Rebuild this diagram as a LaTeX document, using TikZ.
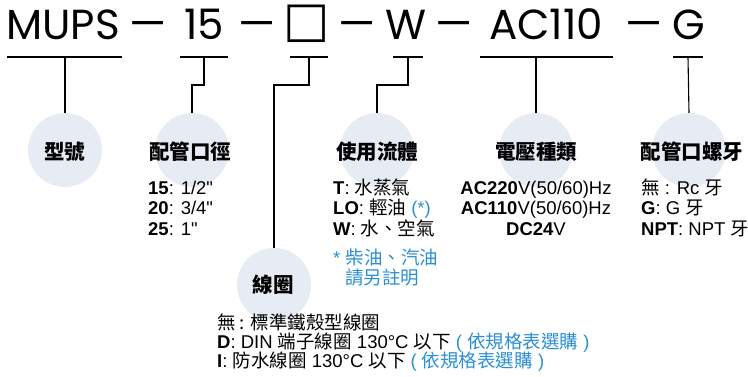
\documentclass[tikz,border=0pt]{standalone}
\usepackage{fontspec}
\setmainfont{Liberation Sans}
\newfontfamily\straight{Liberation Sans}
\newfontfamily\cjk{Noto Sans CJK TC}
\newfontfamily\titlefont{Poppins}
\newfontfamily\boxfont{DejaVu Sans}
\definecolor{bubblecol}{HTML}{E7EBF4}
\definecolor{noteblue}{HTML}{2B8FD4}
\newcommand{\zh}[1]{{\cjk #1}}
\newcommand{\inch}{{\straight"}}
\tikzset{
  code/.style={font=\titlefont\fontsize{42}{42}\selectfont, inner sep=0pt, anchor=base},
  bubble/.style={circle, fill=bubblecol, minimum size=74pt, inner sep=0pt},
  heading/.style={font=\cjk\bfseries\fontsize{20.5}{22}\selectfont, inner sep=0pt},
  item/.style={font=\fontsize{18.5}{20.5}\selectfont, inner sep=0pt, anchor=base west},
  stem/.style={line width=1.1pt},
}
\begin{document}
\begin{tikzpicture}[x=1pt,y=-1pt]
\useasboundingbox (0,0) rectangle (748,376);
% model code
\node[code] (mups) at (63,39) {MUPS};
\node[code] (size) at (204,39) {15};
\node[code,font=\boxfont\fontsize{49}{49}\selectfont] (coil) at (307,36) {□};
\node[code] (fluid) at (406,39) {W};
\node[code] (volt) at (546,39) {AC110};
\node[code] (thread) at (689,39) {G};
\foreach \x in {148,257,357,454,644}
  \node[code] (dash\x) at (\x,38) {—};
% underlines
\foreach \a/\b in {7/122,180/228,290/328,393/423,480/613,673/703}
  \draw[stem] (\a,57) -- (\b,57);
\coordinate (u1) at (65,57);
\coordinate (u2) at (204,57);
\coordinate (u3) at (309,57);
\coordinate (u4) at (408,57);
\coordinate (u5) at (536,57);
\coordinate (u6) at (688,57);
% bubbles
\node[bubble] (b1) at (65,150) {};
\node[bubble] (b2) at (192,150) {};
\node[bubble] (b3) at (274,285) {};
\node[bubble] (b4) at (377,150) {};
\node[bubble] (b5) at (536,150) {};
\node[bubble] (b6) at (689,150) {};
\draw[stem] (u1) -- (b1.north);
\draw[stem] (u2) -- ++(0,28) -| (b2.north);
\draw[stem] (u3) -- ++(0,28) -| (b3.north);
\draw[stem] (u4) -- ++(0,28) -| (b4.north);
\draw[stem] (u5) -- (b5.north);
\draw[stem] (u6) -- (b6.north);
% headings
\node[heading] (h1) at (65,152) {型號};
\node[heading] (h2) at (190,152) {配管口徑};
\node[heading] (h3) at (273,285) {線圈};
\node[heading] (h4) at (377,152) {使用流體};
\node[heading] (h5) at (536,152) {電壓種類};
\node[heading] (h6) at (692,152) {配管口螺牙};
% options
\node[item] (s15) at (148,194) {\textbf{15}: 1/2\inch};
\node[item] (s20) at (148,214.5) {\textbf{20}: 3/4\inch};
\node[item] (s25) at (148,235) {\textbf{25}: 1\inch};
\node[item] (ft) at (333,194) {\textbf{T}: \zh{水蒸氣}};
\node[item] (flo) at (333,214.5) {\textbf{LO}: \zh{輕油} \textcolor{noteblue}{(*)}};
\node[item] (fw) at (333,235) {\textbf{W}: \zh{水、空氣}};
\node[item,text=noteblue] (fnote1) at (333,264) {* \zh{柴油、汽油}};
\node[item,text=noteblue] (fnote2) at (345,284) {\zh{請另註明}};
\node[item,anchor=base] (v220) at (536,194) {\textbf{AC220}V(50/60)Hz};
\node[item,anchor=base] (v110) at (536,214.5) {\textbf{AC110}V(50/60)Hz};
\node[item,anchor=base] (v24) at (536,235) {\textbf{DC24}V};
\node[item] (tnone) at (641,194) {\zh{無} : Rc \zh{牙}};
\node[item] (tg) at (641,214.5) {\textbf{G}: G \zh{牙}};
\node[item] (tnpt) at (641,235) {\textbf{NPT}: NPT \zh{牙}};
\node[item] (cnone) at (217,329) {\zh{無 : 標準鐵殼型線圈}};
\node[item] (cd) at (217,348) {\textbf{D}: DIN \zh{端子線圈} 130°C \zh{以下} \textcolor{noteblue}{( \zh{依規格表選購} )}};
\node[item] (ci) at (217,367) {\textbf{I}: \zh{防水線圈} 130°C \zh{以下} \textcolor{noteblue}{( \zh{依規格表選購} )}};
\end{tikzpicture}
\end{document}
